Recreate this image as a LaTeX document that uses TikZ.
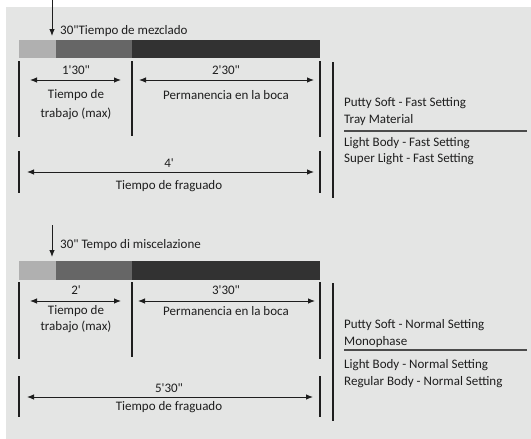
\documentclass[tikz,border=0pt]{standalone}
\usepackage{fontspec}
\newfontfamily\cf{Carlito}
\usetikzlibrary{arrows.meta}
\definecolor{bg}{HTML}{E4E5E4}
\definecolor{barA}{HTML}{B0B0B0}
\definecolor{barB}{HTML}{666666}
\definecolor{barC}{HTML}{323232}
\definecolor{ink}{HTML}{1E1E1E}
\tikzset{
  lbl/.style={font=\cf\fontsize{13}{15}\selectfont, text=ink, inner sep=0pt},
  lblw/.style={lbl, anchor=west},
  tick/.style={draw=ink, line width=1.3pt},
  dim/.style={draw=ink, line width=0.9pt, {Latex[length=7pt,width=5.5pt]}-{Latex[length=7pt,width=5.5pt]}},
  down/.style={draw=ink, line width=0.9pt, -{Latex[length=7pt,width=5.5pt]}},
  seg/.style={inner sep=0pt, outer sep=0pt, anchor=north west},
  sep/.style={draw=ink!80, line width=1.2pt}
}
\begin{document}
\begin{tikzpicture}[x=1pt,y=-1pt]
\useasboundingbox (0,0) rectangle (531,439);
\fill[white] (0,0) rectangle (531,439);
\fill[bg] (6,7) rectangle (531,439);

% ===== Section 1 =====
\coordinate (s1top) at (52,0);
\coordinate (s1tip) at (52,36);
\draw[down] (s1top) -- (s1tip);
\node[lblw] (s1mix) at (60,31) {30"Tiempo de mezclado};

\node[seg, fill=barA, minimum width=37pt, minimum height=18pt] (s1b1) at (19,40) {};
\node[seg, fill=barB, minimum width=76pt, minimum height=18pt] (s1b2) at (56,40) {};
\node[seg, fill=barC, minimum width=188pt, minimum height=18pt] (s1b3) at (132,40) {};

\coordinate (s1v1a) at (19,61);  \coordinate (s1v1b) at (19,137);
\coordinate (s1v2a) at (132,61); \coordinate (s1v2b) at (132,136);
\coordinate (s1v3a) at (320,61); \coordinate (s1v3b) at (320,137);
\draw[tick] (s1v1a) -- (s1v1b);
\draw[tick] (s1v2a) -- (s1v2b);
\draw[tick] (s1v3a) -- (s1v3b);

\node[lbl] (s1t1) at (76,70) {1'30"};
\coordinate (s1a1l) at (30,80); \coordinate (s1a1r) at (121,80);
\draw[dim] (s1a1l) -- (s1a1r);
\node[lbl] (s1w1) at (76,95) {Tiempo de};
\node[lbl] (s1w2) at (76,114) {trabajo (max)};

\node[lbl] (s1t2) at (226,70) {2'30"};
\coordinate (s1a2l) at (139,80); \coordinate (s1a2r) at (314,80);
\draw[dim] (s1a2l) -- (s1a2r);
\node[lbl] (s1p) at (226,95) {Permanencia en la boca};

\coordinate (s1g1a) at (19,151); \coordinate (s1g1b) at (19,193);
\coordinate (s1g2a) at (320,151); \coordinate (s1g2b) at (320,193);
\draw[tick] (s1g1a) -- (s1g1b);
\draw[tick] (s1g2a) -- (s1g2b);
\node[lbl] (s1t3) at (169,163) {4'};
\coordinate (s1a3l) at (27,172); \coordinate (s1a3r) at (314,172);
\draw[dim] (s1a3l) -- (s1a3r);
\node[lbl] (s1f) at (169,186) {Tiempo de fraguado};

\coordinate (s1ra) at (333,62); \coordinate (s1rb) at (333,198);
\draw[tick] (s1ra) -- (s1rb);
\node[lblw] (s1r1) at (344,103) {Putty Soft - Fast Setting};
\node[lblw] (s1r2) at (344,120) {Tray Material};
\coordinate (s1sl) at (344,131); \coordinate (s1sr) at (527,131);
\draw[sep] (s1sl) -- (s1sr);
\node[lblw] (s1r3) at (344,143) {Light Body - Fast Setting};
\node[lblw] (s1r4) at (344,159) {Super Light - Fast Setting};

% ===== Section 2 =====
\coordinate (s2top) at (52,225);
\coordinate (s2tip) at (52,257);
\draw[down] (s2top) -- (s2tip);
\node[lblw] (s2mix) at (60,245) {30" Tempo di miscelazione};

\node[seg, fill=barA, minimum width=37pt, minimum height=19pt] (s2b1) at (19,261) {};
\node[seg, fill=barB, minimum width=76pt, minimum height=19pt] (s2b2) at (56,261) {};
\node[seg, fill=barC, minimum width=188pt, minimum height=19pt] (s2b3) at (132,261) {};

\coordinate (s2v1a) at (19,282);  \coordinate (s2v1b) at (19,359);
\coordinate (s2v2a) at (132,282); \coordinate (s2v2b) at (132,357);
\coordinate (s2v3a) at (320,282); \coordinate (s2v3b) at (320,359);
\draw[tick] (s2v1a) -- (s2v1b);
\draw[tick] (s2v2a) -- (s2v2b);
\draw[tick] (s2v3a) -- (s2v3b);

\node[lbl] (s2t1) at (76,290) {2'};
\coordinate (s2a1l) at (30,301); \coordinate (s2a1r) at (121,301);
\draw[dim] (s2a1l) -- (s2a1r);
\node[lbl] (s2w1) at (76,311) {Tiempo de};
\node[lbl] (s2w2) at (76,327) {trabajo (max)};

\node[lbl] (s2t2) at (226,290) {3'30"};
\coordinate (s2a2l) at (138,301); \coordinate (s2a2r) at (315,301);
\draw[dim] (s2a2l) -- (s2a2r);
\node[lbl] (s2p) at (226,311) {Permanencia en la boca};

\coordinate (s2g1a) at (19,376); \coordinate (s2g1b) at (19,417);
\coordinate (s2g2a) at (320,376); \coordinate (s2g2b) at (320,417);
\draw[tick] (s2g1a) -- (s2g1b);
\draw[tick] (s2g2a) -- (s2g2b);
\node[lbl] (s2t3) at (169,388) {5'30"};
\coordinate (s2a3l) at (27,397); \coordinate (s2a3r) at (313,397);
\draw[dim] (s2a3l) -- (s2a3r);
\node[lbl] (s2f) at (169,407) {Tiempo de fraguado};

\coordinate (s2ra) at (333,283); \coordinate (s2rb) at (333,421);
\draw[tick] (s2ra) -- (s2rb);
\node[lblw] (s2r1) at (344,325) {Putty Soft - Normal Setting};
\node[lblw] (s2r2) at (344,342) {Monophase};
\coordinate (s2sl) at (344,350); \coordinate (s2sr) at (527,350);
\draw[sep] (s2sl) -- (s2sr);
\node[lblw] (s2r3) at (344,365) {Light Body - Normal Setting};
\node[lblw] (s2r4) at (344,382) {Regular Body - Normal Setting};
\end{tikzpicture}
\end{document}
